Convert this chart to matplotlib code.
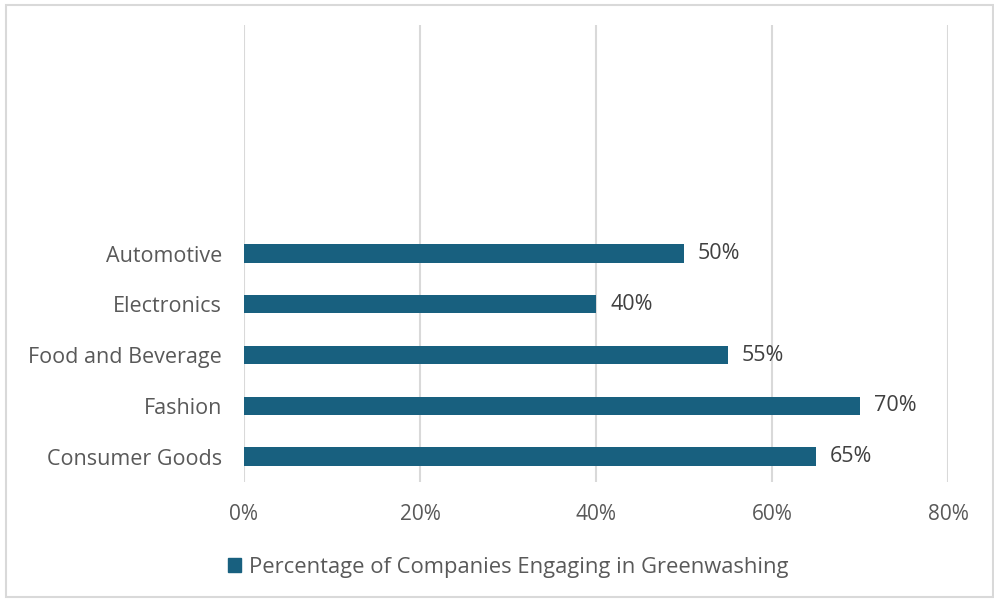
import matplotlib.pyplot as plt
from matplotlib.patches import Rectangle

categories = ["Consumer Goods", "Fashion", "Food and Beverage", "Electronics", "Automotive"]
values = [65, 70, 55, 40, 50]
xticks = [0, 20, 40, 60, 80]
series_name = "Percentage of Companies Engaging in Greenwashing"

bar_color = "#18607F"
text_color = "#595959"
grid_color = "#D9D9D9"

plt.rcParams["font.family"] = ["Open Sans", "DejaVu Sans"]

fig = plt.figure(figsize=(9.94, 6), dpi=100)
W, H = 994, 600
ax = fig.add_axes([244 / W, 1 - 482 / H, (948 - 244) / W, (482 - 25) / H])

ypos = list(range(len(categories)))
ax.barh(ypos, values, height=0.36, color=bar_color, label=series_name, zorder=3)

for y, v in zip(ypos, values):
    ax.text(v + 1.6, y, f"{v}%", va="center", ha="left", fontsize=15.5,
            color="#404040")

ax.set_xlim(0, 80)
ax.set_ylim(-0.5, 8.5)
ax.set_xticks(xticks)
ax.set_xticklabels([f"{t}%" for t in xticks], fontsize=15, color=text_color)
ax.set_yticks(ypos)
ax.set_yticklabels(categories, fontsize=15.5, color=text_color)
ax.tick_params(axis="both", length=0)
ax.tick_params(axis="x", pad=16)
ax.tick_params(axis="y", pad=16)
ax.grid(axis="x", color=grid_color, linewidth=1.5, zorder=0)
for s in ax.spines.values():
    s.set_visible(False)

fig.legend(handles=[Rectangle((0, 0), 1, 1, color=bar_color)], labels=[series_name],
           loc="center", bbox_to_anchor=(508 / W, 1 - 567 / H), frameon=False,
           fontsize=15.8, labelcolor=text_color, handlelength=0.6, handleheight=0.6,
           handletextpad=0.35)

fig.patches.append(Rectangle((6 / W, 3 / H), 987 / W, 592 / H, transform=fig.transFigure,
                             fill=False, edgecolor=grid_color, linewidth=1.5))

fig.savefig("out.png", dpi=100)
